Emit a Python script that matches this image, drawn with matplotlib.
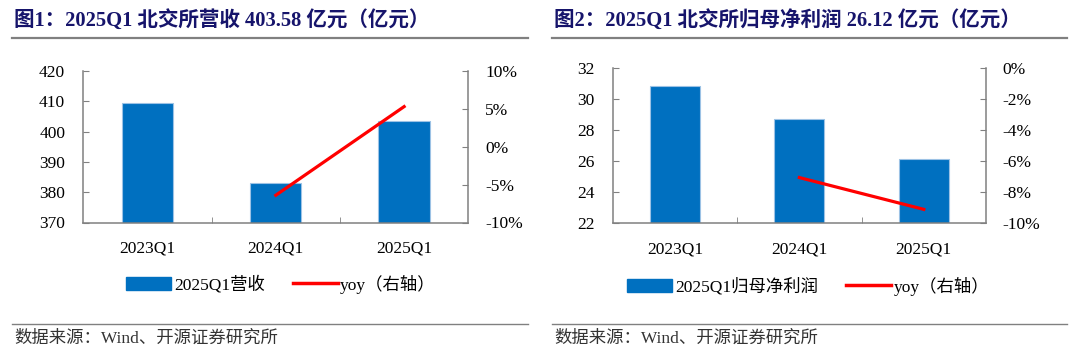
import numpy as np
import matplotlib
matplotlib.use("Agg")
import matplotlib.pyplot as plt
from matplotlib.lines import Line2D
from matplotlib.patches import Patch

plt.rcParams['font.family'] = ['Liberation Serif', 'Noto Sans CJK SC', 'DejaVu Sans']

# 数据
quarters = ['2023Q1', '2024Q1', '2025Q1']
revenue = [409.3, 383.1, 403.58]          # 亿元
revenue_yoy = [np.nan, -6.4, 5.3]         # %
profit = [30.88, 28.71, 26.12]            # 亿元
profit_yoy = [np.nan, -7.05, -9.1]        # %

rev_ticks = [370, 380, 390, 400, 410, 420]
rev_yoy_ticks = [-10, -5, 0, 5, 10]
prof_ticks = [22, 24, 26, 28, 30, 32]
prof_yoy_ticks = [-10, -8, -6, -4, -2, 0]

W, H = 1080, 357
BAR_C = '#0070C0'
LINE_C = '#FF0000'
GRID_C = '#808080'
TITLE_C = '#16146B'


def fx(px):
    return px / W


def fy(py):
    return 1 - py / H


def draw_panel(fig, rect, vals, yoy, yticks, yoy_ticks, bar_label):
    ax = fig.add_axes(rect)
    x = np.arange(len(quarters))
    ax.bar(x, vals, width=0.4, color=BAR_C, edgecolor='#9CC2E5', linewidth=0.8, zorder=2)
    ax.set_xlim(-0.5, len(quarters) - 0.5)
    ax.set_ylim(yticks[0], yticks[-1])
    ax.set_yticks(yticks)
    ax.set_yticklabels([str(t) for t in yticks])
    ax.set_xticks(x)
    ax.set_xticklabels(quarters)
    ax.set_xticks([0.5, 1.5], minor=True)
    ax.tick_params(axis='x', which='major', length=0, pad=13, labelsize=12.5)
    ax.tick_params(axis='x', which='minor', direction='in', length=4, color=GRID_C)
    ax.tick_params(axis='y', direction='in', length=4, color=GRID_C, pad=13, labelsize=12.5)
    for s in ['top', 'right']:
        ax.spines[s].set_visible(False)
    for s in ['left', 'bottom']:
        ax.spines[s].set_color(GRID_C)
        ax.spines[s].set_linewidth(1.1)

    ax2 = ax.twinx()
    ax2.plot(x, yoy, color=LINE_C, lw=2.3, zorder=3)
    ax2.set_ylim(yoy_ticks[0], yoy_ticks[-1])
    ax2.set_yticks(yoy_ticks)
    ax2.set_yticklabels([f'{t}%' for t in yoy_ticks])
    ax2.tick_params(axis='y', direction='in', length=4, color=GRID_C, pad=12, labelsize=12.5)
    for s in ['top', 'left', 'bottom']:
        ax2.spines[s].set_visible(False)
    ax2.spines['right'].set_color(GRID_C)
    ax2.spines['right'].set_linewidth(1.1)

    handles = [Patch(facecolor=BAR_C, edgecolor=BAR_C, label=bar_label),
               Line2D([0], [0], color=LINE_C, lw=2.5, label='yoy（右轴）')]
    return ax, ax2, handles


fig = plt.figure(figsize=(W / 100, H / 100), dpi=100)

# 图1
ax1, ax1b, h1 = draw_panel(fig, [fx(83.3), fy(222.5), fx(385), 151.5 / H],
                           revenue, revenue_yoy, rev_ticks, rev_yoy_ticks, '2025Q1营收')
fig.legend(handles=h1, loc='center', bbox_to_anchor=(fx(281), fy(284)), ncol=2, frameon=False,
           fontsize=12.5, handlelength=2.6, handletextpad=0.15, columnspacing=1.6)

# 图2
ax2, ax2b, h2 = draw_panel(fig, [fx(612.7), fy(223.3), fx(373.3), 155 / H],
                           profit, profit_yoy, prof_ticks, prof_yoy_ticks, '2025Q1归母净利润')
fig.legend(handles=h2, loc='center', bbox_to_anchor=(fx(808), fy(286)), ncol=2, frameon=False,
           fontsize=12.5, handlelength=2.6, handletextpad=0.15, columnspacing=1.6)

titles = ['图1：2025Q1 北交所营收 403.58 亿元（亿元）',
          '图2：2025Q1 北交所归母净利润 26.12 亿元（亿元）']
for x0, x1, t in [(12, 528, titles[0]), (552, 1067, titles[1])]:
    fig.text(fx(x0 + 2), fy(20), t, fontsize=14.8, fontweight='bold', color=TITLE_C, va='center')
    fig.add_artist(Line2D([fx(x0), fx(x1)], [fy(38), fy(38)], color=GRID_C, lw=1.6))
    fig.add_artist(Line2D([fx(x0), fx(x1)], [fy(324), fy(324)], color=GRID_C, lw=1.0))
    fig.text(fx(x0 + 2), fy(339), '数据来源：Wind、开源证券研究所', fontsize=12.5,
             color='#333333', va='center')

fig.savefig('out.png', dpi=100)
